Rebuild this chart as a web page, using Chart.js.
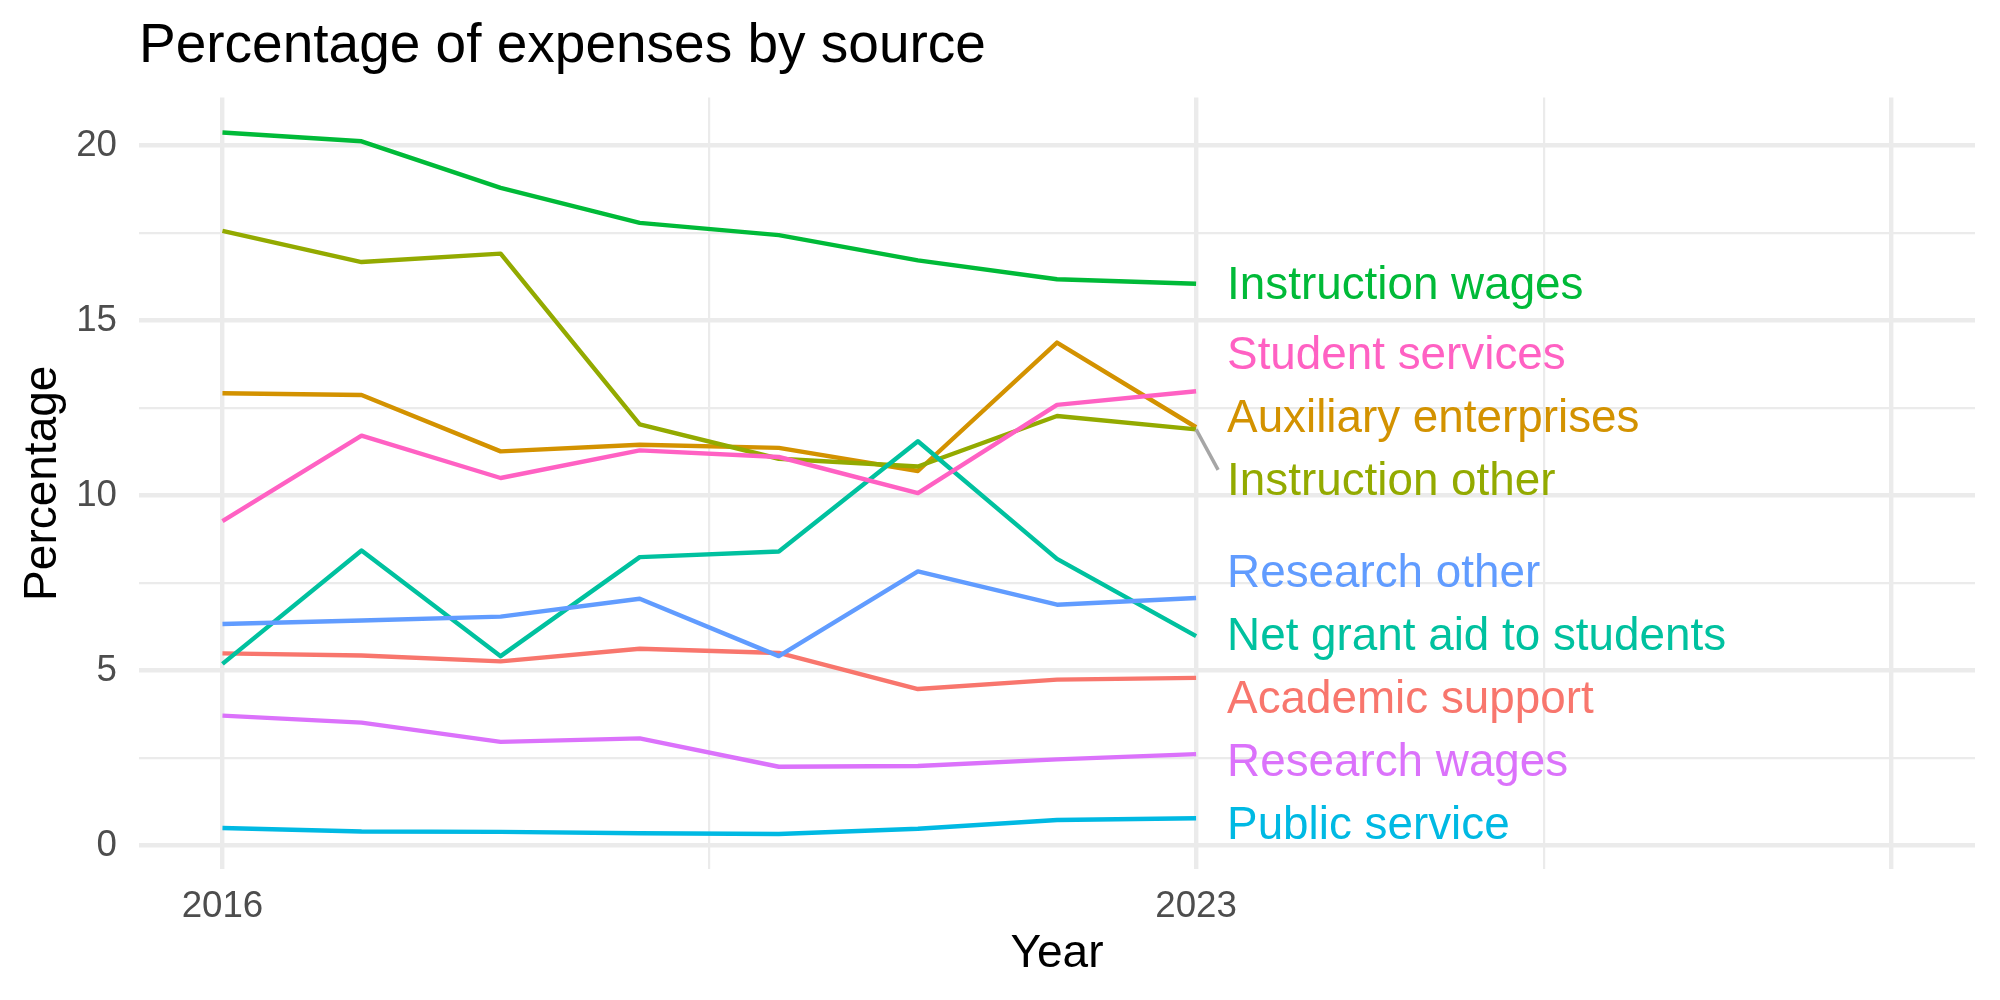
<!DOCTYPE html>
<html lang="en">
<head>
  <meta charset="UTF-8" />
  <title>Percentage of expenses by source</title>
  <script src="https://cdn.jsdelivr.net/npm/chart.js"></script>
  <style>
    body { margin: 0; padding: 0; background: #fff; }
    #wrap { width: 2000px; height: 1000px; }
  </style>
</head>
<body>
  <div id="wrap"><canvas id="chart" width="2000" height="1000"></canvas></div>

  <script>
    const years = [2016, 2017, 2018, 2019, 2020, 2021, 2022, 2023];

    const categories = [
      'Academic support', 'Auxiliary enterprises', 'Instruction other',
      'Instruction wages', 'Net grant aid to students', 'Public service',
      'Research other', 'Research wages', 'Student services'
    ];

    const academicSupport      = [5.49, 5.43, 5.26, 5.62, 5.50, 4.47, 4.74, 4.79];
    const auxiliaryEnterprises = [12.92, 12.87, 11.26, 11.45, 11.36, 10.70, 14.37, 11.95];
    const instructionOther     = [17.56, 16.67, 16.91, 12.03, 11.05, 10.83, 12.27, 11.89];
    const instructionWages     = [20.37, 20.12, 18.79, 17.79, 17.44, 16.72, 16.18, 16.05];
    const netGrantAid          = [5.19, 8.43, 5.41, 8.24, 8.40, 11.55, 8.19, 5.98];
    const publicService        = [0.50, 0.40, 0.39, 0.35, 0.33, 0.48, 0.73, 0.78];
    const researchOther        = [6.33, 6.43, 6.54, 7.05, 5.41, 7.83, 6.88, 7.07];
    const researchWages        = [3.71, 3.51, 2.96, 3.06, 2.25, 2.27, 2.46, 2.61];
    const studentServices      = [9.27, 11.71, 10.50, 11.29, 11.10, 10.07, 12.59, 12.98];

    const seriesValues = [
      academicSupport, auxiliaryEnterprises, instructionOther,
      instructionWages, netGrantAid, publicService,
      researchOther, researchWages, studentServices
    ];

    // ggplot default hue palette, in category order
    const seriesColors = [
      '#F8766D', '#D39200', '#93AA00', '#00BA38', '#00C19F',
      '#00B9E3', '#619CFF', '#DB72FB', '#FF61C3'
    ];

    const xBreaks = [2016, 2023, 2028];
    const xBreakLabels = ['2016', '2023', ''];
    const xMinorBreaks = [2019.5, 2025.5];
    const yBreaks = [0, 5, 10, 15, 20];
    const yBreakLabels = ['0', '5', '10', '15', '20'];
    const yMinorBreaks = [2.5, 7.5, 12.5, 17.5];

    const FONT = "'Liberation Sans', Arial, Helvetica, sans-serif";
    const GRID = '#EBEBEB';

    // 5% expansion like ggplot
    const allValues = seriesValues.flat();
    const yLo = Math.min(...allValues), yHi = Math.max(...allValues);
    const yPad = (yHi - yLo) * 0.05;
    const xLo = xBreaks[0], xHi = xBreaks[xBreaks.length - 1];
    const xPad = (xHi - xLo) * 0.05;

    function tickBuilder(major, minor) {
      return scale => {
        scale.ticks = major.concat(minor).sort((a, b) => a - b).map(v => ({ value: v }));
      };
    }

    // labels at the end of each line, pushed apart like ggrepel
    const endLabels = {
      id: 'endLabels',
      afterDatasetsDraw(chart) {
        const { ctx, scales: { x, y } } = chart;
        const lastX = x.getPixelForValue(years[years.length - 1]);
        const gap = 63;
        const items = categories.map((name, i) => {
          const vals = seriesValues[i];
          return { name, color: seriesColors[i], py: y.getPixelForValue(vals[vals.length - 1]) };
        }).sort((a, b) => a.py - b.py);

        let groups = items.map(it => ({ items: [it], center: it.py }));
        let merged = true;
        while (merged) {
          merged = false;
          for (let k = 0; k < groups.length - 1; k++) {
            const a = groups[k], b = groups[k + 1];
            const aBottom = a.center + (a.items.length - 1) * gap / 2;
            const bTop = b.center - (b.items.length - 1) * gap / 2;
            if (bTop - aBottom < gap) {
              const its = a.items.concat(b.items);
              const c = its.reduce((s, it) => s + it.py, 0) / its.length;
              groups.splice(k, 2, { items: its, center: c });
              merged = true;
              break;
            }
          }
        }

        ctx.save();
        ctx.font = '45.8px ' + FONT;
        ctx.textAlign = 'left';
        ctx.textBaseline = 'middle';
        groups.forEach(g => {
          const n = g.items.length;
          g.items.forEach((it, j) => {
            const ly = g.center + (j - (n - 1) / 2) * gap + 3;
            if (Math.abs(ly - it.py) > 45) {
              ctx.strokeStyle = '#A6A6A6';
              ctx.lineWidth = 3.5;
              ctx.beginPath();
              ctx.moveTo(lastX, it.py);
              ctx.lineTo(lastX + 22, ly > it.py ? ly - 12 : ly + 12);
              ctx.stroke();
            }
            ctx.fillStyle = it.color;
            ctx.fillText(it.name, lastX + 31, ly);
          });
        });
        ctx.restore();
      }
    };

    const datasets = categories.map((name, i) => ({
      label: name,
      data: years.map((yr, k) => ({ x: yr, y: seriesValues[i][k] })),
      borderColor: seriesColors[i],
      backgroundColor: seriesColors[i],
      borderWidth: 4.4,
      borderJoinStyle: 'round',
      pointRadius: 0,
      tension: 0,
      fill: false,
      order: categories.length - i
    }));

    new Chart(document.getElementById('chart').getContext('2d'), {
      type: 'line',
      data: { datasets },
      options: {
        responsive: false,
        devicePixelRatio: 1,
        animation: false,
        layout: { padding: { left: 0, right: 25, top: 0, bottom: 0 } },
        plugins: {
          legend: { display: false },
          tooltip: { enabled: false },
          title: {
            display: true,
            text: 'Percentage of expenses by source',
            align: 'start',
            fullSize: false,
            color: '#000',
            font: { family: FONT, size: 55, weight: 'normal' },
            padding: { top: 14, bottom: 17.5 }
          }
        },
        scales: {
          x: {
            type: 'linear',
            min: xLo - xPad,
            max: xHi + xPad,
            afterBuildTicks: tickBuilder(xBreaks, xMinorBreaks),
            afterFit: s => { s.height = 131; },
            border: { display: false },
            grid: {
              color: GRID,
              drawTicks: false,
              lineWidth: c => xBreaks.includes(c.tick.value) ? 4.4 : 2.2
            },
            ticks: {
              autoSkip: false,
              maxRotation: 0,
              padding: 16,
              color: '#4D4D4D',
              font: { family: FONT, size: 36.7 },
              callback: v => { const i = xBreaks.indexOf(v); return i >= 0 ? xBreakLabels[i] : ''; }
            },
            title: {
              display: true,
              text: 'Year',
              color: '#000',
              font: { family: FONT, size: 46, weight: 'normal' },
              padding: { top: 0, bottom: 18 }
            }
          },
          y: {
            type: 'linear',
            min: yLo - yPad,
            max: yHi + yPad,
            afterBuildTicks: tickBuilder(yBreaks, yMinorBreaks),
            afterFit: s => { s.width = 139; },
            border: { display: false },
            grid: {
              color: GRID,
              drawTicks: false,
              lineWidth: c => yBreaks.includes(c.tick.value) ? 4.4 : 2.2
            },
            ticks: {
              autoSkip: false,
              padding: 22,
              color: '#4D4D4D',
              font: { family: FONT, size: 36.7 },
              callback: v => { const i = yBreaks.indexOf(v); return i >= 0 ? yBreakLabels[i] : ''; }
            },
            title: {
              display: true,
              text: 'Percentage',
              color: '#000',
              font: { family: FONT, size: 46, weight: 'normal' },
              padding: { top: 16, bottom: 0 }
            }
          }
        }
      },
      plugins: [endLabels]
    });
  </script>
</body>
</html>
